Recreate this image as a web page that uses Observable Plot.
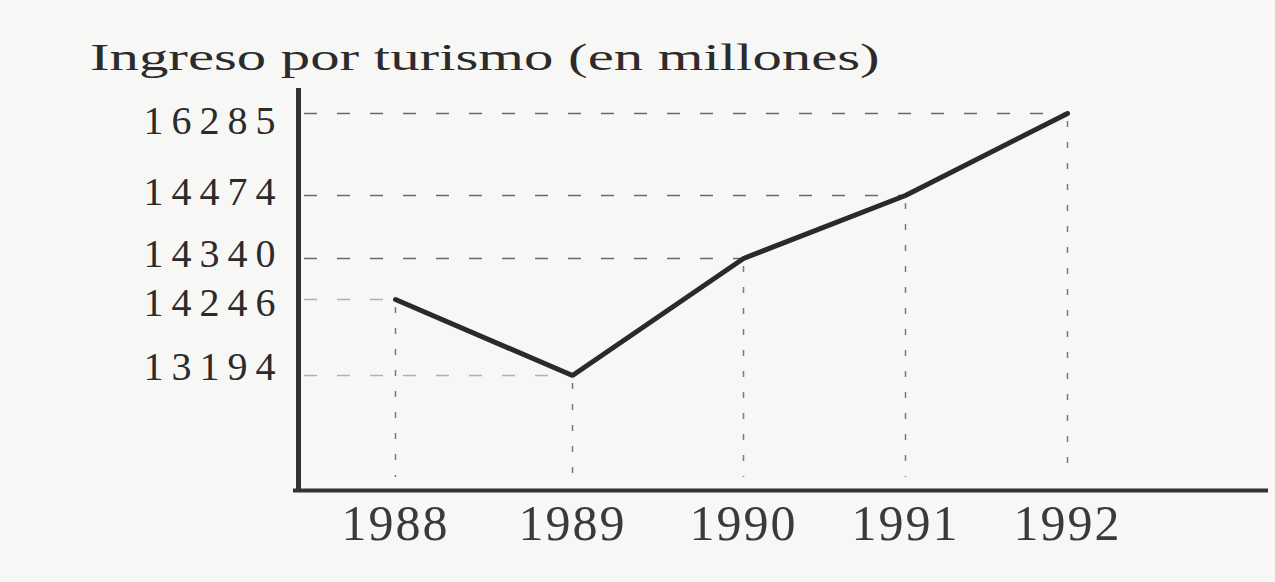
<!DOCTYPE html>
<html>
<head>
<meta charset="utf-8">
<script src="https://cdn.jsdelivr.net/npm/d3@7"></script>
<script src="https://cdn.jsdelivr.net/npm/@observablehq/plot@0.6"></script>
<style>
  html, body { margin: 0; padding: 0; background: #f7f7f6; }
  #wrap { width: 1275px; height: 582px; position: relative; overflow: hidden; }
  #title { position: relative; height: 85px; }
  #title span {
    position: absolute; left: 90px; top: 38px;
    font-family: "Liberation Serif", "Times New Roman", serif;
    font-size: 38px; line-height: 1; color: #2b2b2b; white-space: nowrap;
    display: inline-block; transform-origin: left top; transform: scaleX(1.546);
  }
  [aria-label^="y-axis"] text { font-size: 40px; letter-spacing: 8px; }
  [aria-label^="x-axis"] text { font-size: 50px; letter-spacing: 2px; fill: #3a3a3a; }
</style>
</head>
<body>
<div id="wrap">
  <div id="title"><span>Ingreso por turismo (en millones)</span></div>
  <div id="chart"></div>
</div>
<script>
// Data
const years = [1988, 1989, 1990, 1991, 1992];
const ingresos = [14246, 13194, 14340, 14474, 16285];
const yTickValues = [16285, 14474, 14340, 14246, 13194];
const xTickValues = [1988, 1989, 1990, 1991, 1992];

// Axis extents (the drawing is not to scale: piecewise scales reproduce it)
const xExtent = [1987.4, 1993.2];
const yExtent = [12000, 17000];

// small vertical nudges of the y tick labels, as in the original drawing
const yLabelNudge = {"16285": 8, "14474": -3, "14340": -4, "14246": 4, "13194": -8};

const data = years.map((year, i) => ({year, value: ingresos[i]}));

const chart = Plot.plot({
  width: 1275,
  height: 497,
  marginLeft: 293,
  marginRight: 7,
  marginTop: 3,
  marginBottom: 90,
  style: {fontFamily: "'Liberation Serif', 'Times New Roman', serif", background: "transparent", color: "#2b2b2b"},
  x: {
    type: "linear",
    domain: [xExtent[0], ...years, xExtent[1]],
    range: [298, 395, 572, 743, 905, 1067, 1268],
    ticks: xTickValues,
    tickFormat: d => String(d),
    tickSize: 0,
    tickPadding: 12,
    label: null
  },
  y: {
    type: "linear",
    domain: [yExtent[0], ...[...yTickValues].sort((a, b) => a - b), yExtent[1]],
    range: [405, 290, 214, 173, 110, 28, 3],
    ticks: yTickValues,
    tickFormat: d => String(d),
    tickSize: 0,
    tickPadding: 10,
    label: null
  },
  marks: [
    // horizontal dashed guides
    Plot.ruleY(data, {
      y: "value", x1: xExtent[0], x2: "year", insetLeft: 6,
      stroke: d => d.value < 14300 ? "#b0b0b0" : "#6a6a6a",
      strokeWidth: 1.6, strokeDasharray: "13,20"
    }),
    // vertical dashed guides
    Plot.ruleX(data, {
      x: "year", y1: "value", y2: yExtent[0], insetTop: 8, insetBottom: 13,
      stroke: "#7a7a7a", strokeWidth: 1.5, strokeDasharray: "6,15"
    }),
    // axes lines
    Plot.ruleY([yExtent[0]], {stroke: "#333", strokeWidth: 4}),
    Plot.ruleX([xExtent[0]], {stroke: "#333", strokeWidth: 5}),
    // data line
    Plot.line(data, {x: "year", y: "value", stroke: "#2a2a2a", strokeWidth: 5, strokeLinejoin: "miter"})
  ]
});

// apply the label nudges by wrapping each y tick label in a translated group
d3.select(chart).selectAll('[aria-label^="y-axis"] text').each(function() {
  const off = yLabelNudge[this.textContent.trim()];
  if (!off) return;
  const g = document.createElementNS("http://www.w3.org/2000/svg", "g");
  g.setAttribute("transform", `translate(0,${off})`);
  this.parentNode.insertBefore(g, this);
  g.appendChild(this);
});

document.getElementById("chart").appendChild(chart);
</script>
</body>
</html>
